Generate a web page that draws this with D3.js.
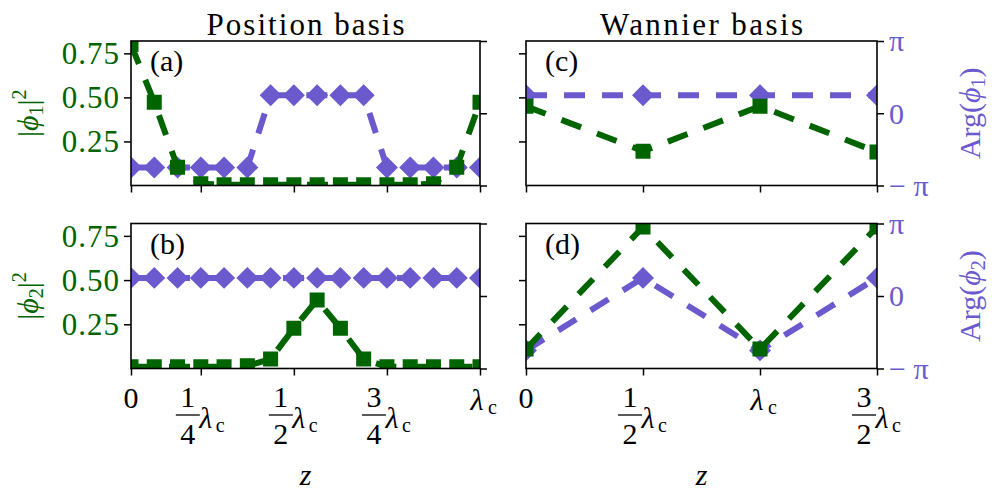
<!DOCTYPE html>
<html><head><meta charset="utf-8">
<script src="https://cdn.jsdelivr.net/npm/d3@7"></script>
<style>
body{margin:0;background:#fff}
svg{display:block}
svg text{font-family:"Liberation Serif","DejaVu Serif","Noto Serif","Times New Roman",serif !important;}
</style>
</head><body>
<svg id="chart" width="997" height="498"></svg>
<script>
// ---------- data ----------
// Position basis: 16 grid points (index 0..15)
const posIndex = [0,1,2,3,4,5,6,7,8,9,10,11,12,13,14,15];
const posTickIndex = [0,3,7,11,15];
const posTickLabels = [["0"],["1","4"],["1","2"],["3","4"],["λ"]];
const posAmp1 = [0.80,0.473,0.104,0.010,0.004,0.004,0.004,0.004,0.004,0.004,0.004,0.004,0.004,0.010,0.104,0.473];
// phases in units of pi
const posArg1 = [-0.75,-0.75,-0.75,-0.75,-0.75,-0.75,0.25,0.25,0.25,0.25,0.25,-0.75,-0.75,-0.75,-0.75,-0.75];
const posAmp2 = [0.010,0.010,0.010,0.010,0.010,0.015,0.054,0.228,0.388,0.228,0.054,0.010,0.010,0.010,0.010,0.010];
const posArg2 = [0.25,0.25,0.25,0.25,0.25,0.25,0.25,0.25,0.25,0.25,0.25,0.25,0.25,0.25,0.25,0.25];
// Wannier basis: 4 points
const wanIndex = [0,1,2,3];
const wanTickIndex = [0,1,2,3];
const wanTickLabels = [["0"],["1","2"],["λ"],["3","2"]];
const wanAmp1 = [0.450,0.195,0.450,0.190];
const wanArg1 = [0.25,0.25,0.25,0.25];
const wanAmp2 = [0.110,0.800,0.110,0.800];
const wanArg2 = [-0.75,0.25,-0.75,0.25];
// axis ticks
const ampTicks = [0.25,0.50,0.75];
const argTicks = [-1,0,1];
const argTickLabels = ["− π","0","π"];

// ---------- style ----------
const GREEN = "#006400", PURPLE = "#6a5acd";
const FONT = '"Liberation Serif","DejaVu Serif","Noto Serif",serif';
const svg = d3.select("#chart").attr("font-family",FONT);
const FS = 30;

const cols = [{x0:131,x1:480,idx:posIndex,ticks:posTickIndex,labels:posTickLabels,title:"Position basis",tw:198},
              {x0:526,x1:877,idx:wanIndex,ticks:wanTickIndex,labels:wanTickLabels,title:"Wannier basis",tw:203}];
const rows = [{y0:41,y1:185.5},{y0:223.5,y1:368.5}];

const panels = [
  {c:0,r:0,amp:posAmp1,arg:posArg1,tag:"(a)"},
  {c:0,r:1,amp:posAmp2,arg:posArg2,tag:"(b)"},
  {c:1,r:0,amp:wanAmp1,arg:wanArg1,tag:"(c)"},
  {c:1,r:1,amp:wanAmp2,arg:wanArg2,tag:"(d)"}
];

const defs = svg.append("defs");

panels.forEach((p,pi)=>{
  const col = cols[p.c], row = rows[p.r];
  const x = d3.scaleLinear().domain(d3.extent(col.idx)).range([col.x0,col.x1]);
  const yA = d3.scaleLinear().domain([0,0.82]).range([row.y1,row.y0]);
  const yP = d3.scaleLinear().domain([-1,1]).range([row.y1,row.y0]);
  const g = svg.append("g");
  const cid = "clip"+pi;
  defs.append("clipPath").attr("id",cid).append("rect")
    .attr("x",col.x0).attr("y",row.y0).attr("width",col.x1-col.x0).attr("height",row.y1-row.y0);
  const plot = g.append("g").attr("clip-path",`url(#${cid})`);

  const lineP = d3.line().x((d,i)=>x(col.idx[i])).y(d=>yP(d));
  const lineA = d3.line().x((d,i)=>x(col.idx[i])).y(d=>yA(d));
  plot.append("path").attr("d",lineP(p.arg)).attr("fill","none")
    .attr("stroke",PURPLE).attr("stroke-width",6).attr("stroke-dasharray","21,17");
  const diamond = d3.symbol().type(d3.symbolSquare).size(242);
  plot.selectAll(".dia").data(p.arg).join("path")
    .attr("d",diamond).attr("fill",PURPLE)
    .attr("transform",(d,i)=>`translate(${x(col.idx[i])},${yP(d)}) rotate(45)`);
  plot.append("path").attr("d",lineA(p.amp)).attr("fill","none")
    .attr("stroke",GREEN).attr("stroke-width",6).attr("stroke-dasharray","21,17");
  const square = d3.symbol().type(d3.symbolSquare).size(225);
  plot.selectAll(".sq").data(p.amp).join("path")
    .attr("d",square).attr("fill",GREEN)
    .attr("transform",(d,i)=>`translate(${x(col.idx[i])},${yA(d)})`);

  g.append("rect").attr("x",col.x0).attr("y",row.y0).attr("width",col.x1-col.x0).attr("height",row.y1-row.y0)
    .attr("fill","none").attr("stroke","#000").attr("stroke-width",1.6);

  const styleAxis = sel=>{sel.select(".domain").remove();
    sel.attr("font-family",FONT);
    sel.selectAll(".tick line").attr("stroke","#000").attr("stroke-width",1.5);};
  g.append("g").attr("transform",`translate(${col.x0},0)`)
    .call(d3.axisLeft(yA).tickValues(ampTicks).tickSize(7).tickFormat(p.c===0?d3.format(".2f"):""))
    .call(styleAxis)
    .call(s=>s.selectAll(".tick text").attr("fill",GREEN).attr("font-size",31)
      .attr("letter-spacing",1).attr("x",-11).attr("dy","0.33em"));
  g.append("g").attr("transform",`translate(${col.x1},0)`)
    .call(d3.axisRight(yP).tickValues(argTicks).tickSize(7).tickFormat((d,i)=>p.c===1?argTickLabels[i]:""))
    .call(styleAxis)
    .call(s=>s.selectAll(".tick text").attr("fill",PURPLE).attr("font-size",FS)
      .attr("x",12).attr("dy","0.33em"));
  g.append("g").attr("transform",`translate(0,${row.y1})`)
    .call(d3.axisBottom(x).tickValues(col.ticks).tickSize(7).tickFormat(""))
    .call(styleAxis);

  if(p.r===1){
    col.ticks.forEach((t,i)=>{
      const lab = col.labels[i], tx = x(t);
      const lg = g.append("g").attr("font-size",FS);
      if(lab.length===1){
        if(lab[0]==="0"){
          lg.append("text").attr("x",tx).attr("y",408).attr("text-anchor","middle").text("0");
        } else {
          lg.append("text").attr("x",tx-3).attr("y",410).attr("text-anchor","middle").attr("font-style","italic").text("λ");
          lg.append("text").attr("x",tx+8).attr("y",414).attr("font-size",20).text("c");
        }
      } else {
        const fc = tx-13;
        lg.append("text").attr("x",fc).attr("y",407).attr("text-anchor","middle").text(lab[0]);
        lg.append("line").attr("x1",fc-12).attr("x2",fc+12).attr("y1",415).attr("y2",415)
          .attr("stroke","#000").attr("stroke-width",1.3);
        lg.append("text").attr("x",fc).attr("y",444).attr("text-anchor","middle").text(lab[1]);
        lg.append("text").attr("x",tx+5).attr("y",428).attr("text-anchor","middle").attr("font-style","italic").text("λ");
        lg.append("text").attr("x",tx+15).attr("y",432).attr("font-size",20).text("c");
      }
    });
    svg.append("text").attr("x",(col.x0+col.x1)/2).attr("y",485).attr("text-anchor","middle")
      .attr("font-size",FS).attr("font-style","italic").text("z");
  }
  if(p.r===0){
    svg.append("text").attr("x",(col.x0+col.x1)/2).attr("y",35).attr("text-anchor","middle")
      .attr("font-size",31).attr("textLength",col.tw).attr("lengthAdjust","spacing").text(col.title);
  }
  g.append("text").attr("x",col.x0+19).attr("y",row.y0+30).attr("font-size",FS).text(p.tag);

  const n = p.r===0?"1":"2";
  const cy = (row.y0+row.y1)/2;
  if(p.c===0){
    const t = svg.append("text").attr("transform",`translate(38,${cy}) rotate(-90)`)
      .attr("text-anchor","middle").attr("fill",GREEN).attr("font-size",FS);
    t.append("tspan").text("|");
    t.append("tspan").attr("font-style","italic").text("ϕ");
    t.append("tspan").attr("font-size",20).attr("dy",5).text(n);
    t.append("tspan").attr("dy",-5).text("|");
    t.append("tspan").attr("font-size",20).attr("dy",-12).text("2");
  } else {
    const t = svg.append("text").attr("transform",`translate(980,${cy}) rotate(-90)`)
      .attr("text-anchor","middle").attr("fill",PURPLE).attr("font-size",FS);
    t.append("tspan").text("Arg(");
    t.append("tspan").attr("font-style","italic").text("ϕ");
    t.append("tspan").attr("font-size",20).attr("dy",5).text(n);
    t.append("tspan").attr("dy",-5).text(")");
  }
});
</script>
</body></html>
